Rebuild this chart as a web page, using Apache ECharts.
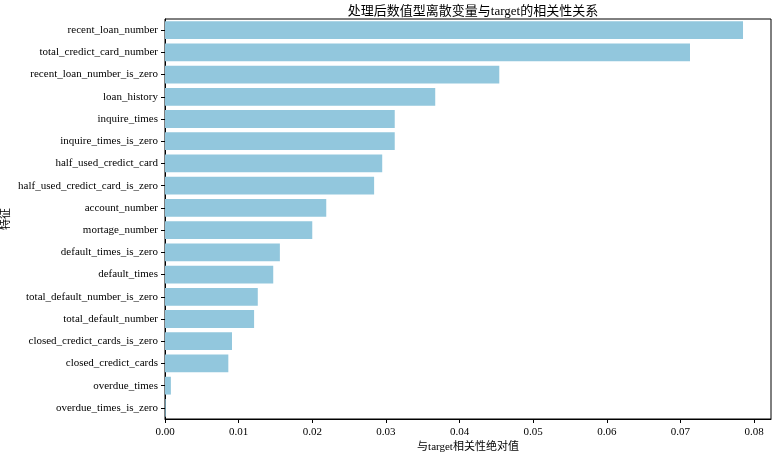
<!DOCTYPE html>
<html>
<head>
<meta charset="utf-8">
<script src="https://cdn.jsdelivr.net/npm/echarts@6/dist/echarts.min.js"></script>
<style>html,body{margin:0;padding:0;background:#fff}#c{width:773px;height:454px}</style>
</head>
<body>
<div id="c"></div>
<script>
const features = ['recent_loan_number','total_credict_card_number','recent_loan_number_is_zero','loan_history','inquire_times','inquire_times_is_zero','half_used_credict_card','half_used_credict_card_is_zero','account_number','mortage_number','default_times_is_zero','default_times','total_default_number_is_zero','total_default_number','closed_credict_cards_is_zero','closed_credict_cards','overdue_times','overdue_times_is_zero'];
const absCorr = [0.0785,0.0713,0.0454,0.0367,0.0312,0.0312,0.0295,0.0284,0.0219,0.0200,0.0156,0.0147,0.0126,0.0121,0.0091,0.0086,0.0008,0.0001];
const xTicks = [0,0.01,0.02,0.03,0.04,0.05,0.06,0.07,0.08];

const font = '"Liberation Serif","Noto Sans CJK SC",serif';
const chart = echarts.init(document.getElementById('c'), null, {renderer:'canvas'});
chart.setOption({
  animation:false,
  title:{text:'处理后数值型离散变量与target的相关性关系', left:468, textAlign:'center', top:0,
    textStyle:{fontFamily:font, fontSize:13, fontWeight:'normal', color:'#000'}},
  grid:{left:165, right:2, top:19, bottom:35, show:true, borderColor:'#000', borderWidth:1,
    containLabel:false, outerBoundsMode:'none'},
  xAxis:{type:'value', min:0, max:0.0823, interval:0.01,
    name:'与target相关性绝对值', nameLocation:'middle', nameGap:23, nameMoveOverlap:false,
    nameTextStyle:{fontFamily:font, fontSize:11, color:'#000'},
    axisLine:{show:true, lineStyle:{color:'#000'}},
    axisTick:{show:true, length:4, lineStyle:{color:'#000'}},
    splitLine:{show:false},
    axisLabel:{fontFamily:font, fontSize:11, color:'#000', margin:8, showMaxLabel:false,
      formatter:v=>{const r=Math.round(v*100)/100; return xTicks.some(t=>Math.abs(t-v)<1e-9)? r.toFixed(2):'';}}},
  yAxis:{type:'category', data:features, inverse:true,
    name:'特征', nameLocation:'middle', nameGap:153, nameRotate:90, nameMoveOverlap:false,
    nameTextStyle:{fontFamily:font, fontSize:11, color:'#000'},
    axisLine:{show:true, lineStyle:{color:'#000'}},
    axisTick:{show:true, length:4, alignWithLabel:true, lineStyle:{color:'#000'}},
    axisLabel:{fontFamily:font, fontSize:11, color:'#000', margin:7}},
  series:[{type:'bar', data:absCorr, barCategoryGap:'20%',
    itemStyle:{color:'#92c7dd'}}]
});
</script>
</body>
</html>
